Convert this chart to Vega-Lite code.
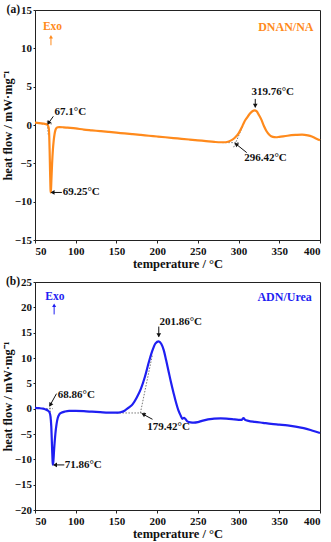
{
  "$schema": "https://vega.github.io/schema/vega-lite/v6.json",
  "padding": {"left": 0, "top": 3, "right": 8, "bottom": 2},
  "bounds": "flush",
  "spacing": 42,
  "config": {
    "font": "Liberation Serif",
    "view": {"stroke": "#222", "strokeWidth": 1},
    "axis": {
      "labelFont": "Liberation Serif", "labelFontWeight": "bold", "labelFontSize": 11, "labelColor": "#111",
      "titleFont": "Liberation Serif", "titleFontWeight": "bold", "titleFontSize": 12.5, "titleColor": "#111",
      "grid": false, "domainColor": "#222", "tickColor": "#222", "tickSize": 3, "labelPadding": 2
    },
    "axisY": {"tickSize": 2, "labelPadding": 1.5, "titlePadding": 0, "labelSeparation": 0},
    "text": {"font": "Liberation Serif", "fontWeight": "bold", "fontSize": 11}
  },
  "datasets": {
    "curveA": [
      {"t":50,"h":0.30},{"t":55,"h":0.25},{"t":60,"h":0.18},{"t":63,"h":0.12},{"t":65,"h":0.05},{"t":66,"h":-0.1},{"t":67,"h":-0.5},{"t":67.5,"h":-1.5},{"t":68,"h":-3.5},{"t":68.5,"h":-6.0},{"t":69,"h":-8.2},{"t":69.25,"h":-8.8},{"t":69.6,"h":-8.5},{"t":70.2,"h":-7.0},{"t":71,"h":-5.0},{"t":72,"h":-3.2},{"t":73,"h":-2.0},{"t":74,"h":-1.2},{"t":75,"h":-0.7},{"t":76,"h":-0.45},{"t":78,"h":-0.3},{"t":80,"h":-0.27},{"t":85,"h":-0.3},{"t":90,"h":-0.35},{"t":100,"h":-0.45},{"t":110,"h":-0.6},{"t":120,"h":-0.7},{"t":130,"h":-0.8},{"t":140,"h":-0.9},{"t":150,"h":-1.0},{"t":160,"h":-1.1},{"t":170,"h":-1.2},{"t":180,"h":-1.3},{"t":190,"h":-1.4},{"t":200,"h":-1.5},{"t":210,"h":-1.6},{"t":220,"h":-1.7},{"t":230,"h":-1.8},{"t":240,"h":-1.9},{"t":250,"h":-2.0},{"t":260,"h":-2.1},{"t":270,"h":-2.2},{"t":278,"h":-2.25},{"t":284,"h":-2.25},{"t":288,"h":-2.15},{"t":292,"h":-1.95},{"t":296,"h":-1.6},{"t":300,"h":-1.1},{"t":304,"h":-0.3},{"t":307,"h":0.4},{"t":310,"h":0.9},{"t":314,"h":1.5},{"t":317,"h":1.8},{"t":319.76,"h":1.9},{"t":322,"h":1.8},{"t":325,"h":1.3},{"t":328,"h":0.7},{"t":331,"h":-0.1},{"t":334,"h":-0.75},{"t":338,"h":-1.3},{"t":342,"h":-1.55},{"t":346,"h":-1.6},{"t":350,"h":-1.55},{"t":360,"h":-1.4},{"t":370,"h":-1.3},{"t":378,"h":-1.25},{"t":385,"h":-1.35},{"t":390,"h":-1.5},{"t":395,"h":-1.75},{"t":400,"h":-2.0}
    ],
    "curveB": [
      {"t":50,"h":0.15},{"t":55,"h":0.1},{"t":60,"h":0.0},{"t":63,"h":-0.15},{"t":66,"h":-0.4},{"t":68,"h":-0.8},{"t":69,"h":-1.5},{"t":70,"h":-3.5},{"t":70.8,"h":-7},{"t":71.5,"h":-10},{"t":71.86,"h":-11.05},{"t":72.5,"h":-10.5},{"t":73.5,"h":-8},{"t":75,"h":-5},{"t":76.5,"h":-3},{"t":78,"h":-1.8},{"t":80,"h":-1.1},{"t":83,"h":-0.75},{"t":87,"h":-0.55},{"t":92,"h":-0.45},{"t":100,"h":-0.45},{"t":110,"h":-0.5},{"t":120,"h":-0.6},{"t":130,"h":-0.7},{"t":140,"h":-0.8},{"t":150,"h":-0.8},{"t":155,"h":-0.7},{"t":160,"h":-0.4},{"t":165,"h":0.2},{"t":170,"h":0.9},{"t":175,"h":2.2},{"t":180,"h":3.9},{"t":185,"h":6.3},{"t":190,"h":9.3},{"t":194,"h":11.4},{"t":198,"h":12.9},{"t":201.86,"h":13.3},{"t":205,"h":12.8},{"t":208,"h":11.6},{"t":211,"h":9.6},{"t":214,"h":7.4},{"t":217,"h":5.2},{"t":220,"h":3.2},{"t":223,"h":1.3},{"t":226,"h":-0.3},{"t":229,"h":-1.4},{"t":231,"h":-2.0},{"t":233,"h":-1.8},{"t":234.5,"h":-2.0},{"t":237,"h":-2.5},{"t":241,"h":-2.7},{"t":245,"h":-2.75},{"t":250,"h":-2.65},{"t":255,"h":-2.4},{"t":260,"h":-2.2},{"t":265,"h":-2.05},{"t":270,"h":-1.95},{"t":278,"h":-1.9},{"t":285,"h":-1.95},{"t":292,"h":-2.05},{"t":300,"h":-2.2},{"t":304,"h":-2.2},{"t":306,"h":-1.85},{"t":308,"h":-2.2},{"t":312,"h":-2.4},{"t":320,"h":-2.6},{"t":330,"h":-2.8},{"t":340,"h":-3.0},{"t":350,"h":-3.15},{"t":360,"h":-3.3},{"t":370,"h":-3.55},{"t":380,"h":-3.85},{"t":390,"h":-4.3},{"t":400,"h":-4.8}
    ],
    "tanA": [
      {"x":58,"y":0.15,"x2":71,"y2":0.15},
      {"x":65.1,"y":0.5,"x2":66.4,"y2":-1.4},
      {"x":280,"y":-2.3,"x2":300,"y2":-2.3},
      {"x":294,"y":-2.9,"x2":305,"y2":-0.2}
    ],
    "tanB": [
      {"x":60,"y":0.0,"x2":72,"y2":0.0},
      {"x":68,"y":0.8,"x2":69.3,"y2":-1.8},
      {"x":150,"y":-0.85,"x2":186,"y2":-0.85},
      {"x":179.42,"y":-0.85,"x2":194,"y2":10.5}
    ]
  },
  "vconcat": [
    {
      "width": 285, "height": 230,
      "layer": [
        {
          "data": {"name": "tanA"},
          "mark": {"type": "rule", "color": "#777", "strokeDash": [1.5, 1.5], "strokeWidth": 1},
          "encoding": {
            "x": {"field": "x", "type": "quantitative", "scale": {"domain": [50, 400], "nice": false},
              "axis": {"title": "temperature / °C", "values": [50,75,100,125,150,175,200,225,250,275,300,325,350,375,400], "labelExpr": "datum.value % 50 == 0 ? datum.label : ''", "titlePadding": 1, "labelOverlap": false}},
            "y": {"field": "y", "type": "quantitative", "scale": {"domain": [-15, 15], "nice": false},
              "axis": {"title": "heat flow / mW·mg⁻¹", "tickCount": 6, "labelOverlap": false, "labelFlush": false}},
            "x2": {"field": "x2"}, "y2": {"field": "y2"}
          }
        },
        {
          "data": {"name": "curveA"},
          "mark": {"type": "line", "color": "#FF8A1C", "strokeWidth": 2.2, "interpolate": "monotone"},
          "encoding": {
            "x": {"field": "t", "type": "quantitative"},
            "y": {"field": "h", "type": "quantitative"}
          }
        },
        {
          "data": {"values": [
            {"x":72.5,"y":1.13,"x2":66.6,"y2":0.25},
            {"x":83,"y":-8.8,"x2":71,"y2":-8.8},
            {"x":320.5,"y":3.4,"x2":320.5,"y2":2.3},
            {"x":310,"y":-3.6,"x2":296.5,"y2":-2.45}
          ]},
          "mark": {"type": "rule", "color": "#111", "strokeWidth": 1},
          "encoding": {
            "x": {"field": "x", "type": "quantitative"}, "y": {"field": "y", "type": "quantitative"},
            "x2": {"field": "x2"}, "y2": {"field": "y2"}
          }
        },
        {
          "data": {"values": [{"x":66.6,"y":0.25}]},
          "mark": {"type": "point", "shape": "triangle-left", "filled": true, "color": "#111", "size": 22, "angle": 304, "opacity": 1},
          "encoding": {"x": {"field": "x", "type": "quantitative"}, "y": {"field": "y", "type": "quantitative"}}
        },
        {
          "data": {"values": [{"x":71.5,"y":-8.8}]},
          "mark": {"type": "point", "shape": "triangle-left", "filled": true, "color": "#111", "size": 22, "opacity": 1},
          "encoding": {"x": {"field": "x", "type": "quantitative"}, "y": {"field": "y", "type": "quantitative"}}
        },
        {
          "data": {"values": [{"x":320.5,"y":2.5}]},
          "mark": {"type": "point", "shape": "triangle-down", "filled": true, "color": "#111", "size": 22, "opacity": 1},
          "encoding": {"x": {"field": "x", "type": "quantitative"}, "y": {"field": "y", "type": "quantitative"}}
        },
        {
          "data": {"values": [{"x":297,"y":-2.5}]},
          "mark": {"type": "point", "shape": "triangle-left", "filled": true, "color": "#111", "size": 22, "angle": 36, "opacity": 1},
          "encoding": {"x": {"field": "x", "type": "quantitative"}, "y": {"field": "y", "type": "quantitative"}}
        },
        {
          "data": {"values": [
            {"x":74,"y":1.7,"label":"67.1°C"},
            {"x":84,"y":-8.8,"label":"69.25°C"}
          ]},
          "mark": {"type": "text", "align": "left", "baseline": "middle", "color": "#111"},
          "encoding": {"x": {"field": "x", "type": "quantitative"}, "y": {"field": "y", "type": "quantitative"}, "text": {"field": "label"}}
        },
        {
          "data": {"values": [
            {"x":342,"y":4.3,"label":"319.76°C"},
            {"x":333,"y":-4.3,"label":"296.42°C"}
          ]},
          "mark": {"type": "text", "align": "center", "baseline": "middle", "color": "#111"},
          "encoding": {"x": {"field": "x", "type": "quantitative"}, "y": {"field": "y", "type": "quantitative"}, "text": {"field": "label"}}
        },
        {
          "data": {"values": [{"x":71.5,"y":12.8,"label":"Exo"}]},
          "mark": {"type": "text", "align": "center", "baseline": "middle", "color": "#FF8A1C", "fontSize": 11.5},
          "encoding": {"x": {"field": "x", "type": "quantitative"}, "y": {"field": "y", "type": "quantitative"}, "text": {"field": "label"}}
        },
        {
          "data": {"values": [{"x":69.6,"y":10.4,"x2":69.6,"y2":11.5}]},
          "mark": {"type": "rule", "color": "#FF8A1C", "strokeWidth": 1},
          "encoding": {"x": {"field": "x", "type": "quantitative"}, "y": {"field": "y", "type": "quantitative"}, "y2": {"field": "y2"}}
        },
        {
          "data": {"values": [{"x":69.6,"y":11.5}]},
          "mark": {"type": "point", "shape": "triangle-up", "filled": true, "color": "#FF8A1C", "size": 16, "opacity": 1},
          "encoding": {"x": {"field": "x", "type": "quantitative"}, "y": {"field": "y", "type": "quantitative"}}
        },
        {
          "data": {"values": [{"x":392,"y":12.8,"label":"DNAN/NA"}]},
          "mark": {"type": "text", "align": "right", "baseline": "middle", "color": "#FF8A1C", "fontSize": 12},
          "encoding": {"x": {"field": "x", "type": "quantitative"}, "y": {"field": "y", "type": "quantitative"}, "text": {"field": "label"}}
        },
        {
          "data": {"values": [{"x":50,"y":15,"label":"(a)"}]},
          "mark": {"type": "text", "align": "right", "baseline": "middle", "color": "#111", "dx": -15, "fontSize": 11.5},
          "encoding": {"x": {"field": "x", "type": "quantitative"}, "y": {"field": "y", "type": "quantitative"}, "text": {"field": "label"}}
        }
      ]
    },
    {
      "width": 285, "height": 228,
      "layer": [
        {
          "data": {"name": "tanB"},
          "mark": {"type": "rule", "color": "#777", "strokeDash": [1.5, 1.5], "strokeWidth": 1},
          "encoding": {
            "x": {"field": "x", "type": "quantitative", "scale": {"domain": [50, 400], "nice": false},
              "axis": {"title": "temperature / °C", "values": [50,75,100,125,150,175,200,225,250,275,300,325,350,375,400], "labelExpr": "datum.value % 50 == 0 ? datum.label : ''", "titlePadding": 1, "labelOverlap": false}},
            "y": {"field": "y", "type": "quantitative", "scale": {"domain": [-20, 25], "nice": false},
              "axis": {"title": "heat flow / mW·mg⁻¹", "tickCount": 9, "labelOverlap": false, "labelFlush": false}},
            "x2": {"field": "x2"}, "y2": {"field": "y2"}
          }
        },
        {
          "data": {"name": "curveB"},
          "mark": {"type": "line", "color": "#1F1FF2", "strokeWidth": 2.2, "interpolate": "monotone"},
          "encoding": {
            "x": {"field": "t", "type": "quantitative"},
            "y": {"field": "h", "type": "quantitative"}
          }
        },
        {
          "data": {"values": [
            {"x":76.4,"y":2.96,"x2":68.6,"y2":0.7},
            {"x":86,"y":-11.1,"x2":74,"y2":-11.1},
            {"x":202,"y":16.2,"x2":202,"y2":14.2},
            {"x":194.3,"y":-2.1,"x2":182.2,"y2":-1.05}
          ]},
          "mark": {"type": "rule", "color": "#111", "strokeWidth": 1},
          "encoding": {
            "x": {"field": "x", "type": "quantitative"}, "y": {"field": "y", "type": "quantitative"},
            "x2": {"field": "x2"}, "y2": {"field": "y2"}
          }
        },
        {
          "data": {"values": [{"x":68.8,"y":0.75}]},
          "mark": {"type": "point", "shape": "triangle-left", "filled": true, "color": "#111", "size": 22, "angle": 300, "opacity": 1},
          "encoding": {"x": {"field": "x", "type": "quantitative"}, "y": {"field": "y", "type": "quantitative"}}
        },
        {
          "data": {"values": [{"x":74.5,"y":-11.1}]},
          "mark": {"type": "point", "shape": "triangle-left", "filled": true, "color": "#111", "size": 22, "opacity": 1},
          "encoding": {"x": {"field": "x", "type": "quantitative"}, "y": {"field": "y", "type": "quantitative"}}
        },
        {
          "data": {"values": [{"x":202,"y":14.5}]},
          "mark": {"type": "point", "shape": "triangle-down", "filled": true, "color": "#111", "size": 22, "opacity": 1},
          "encoding": {"x": {"field": "x", "type": "quantitative"}, "y": {"field": "y", "type": "quantitative"}}
        },
        {
          "data": {"values": [{"x":183,"y":-1.1}]},
          "mark": {"type": "point", "shape": "triangle-left", "filled": true, "color": "#111", "size": 22, "angle": 27, "opacity": 1},
          "encoding": {"x": {"field": "x", "type": "quantitative"}, "y": {"field": "y", "type": "quantitative"}}
        },
        {
          "data": {"values": [
            {"x":78,"y":2.7,"label":"68.86°C"},
            {"x":86.5,"y":-11.2,"label":"71.86°C"}
          ]},
          "mark": {"type": "text", "align": "left", "baseline": "middle", "color": "#111"},
          "encoding": {"x": {"field": "x", "type": "quantitative"}, "y": {"field": "y", "type": "quantitative"}, "text": {"field": "label"}}
        },
        {
          "data": {"values": [
            {"x":229,"y":17.2,"label":"201.86°C"},
            {"x":214,"y":-3.7,"label":"179.42°C"}
          ]},
          "mark": {"type": "text", "align": "center", "baseline": "middle", "color": "#111"},
          "encoding": {"x": {"field": "x", "type": "quantitative"}, "y": {"field": "y", "type": "quantitative"}, "text": {"field": "label"}}
        },
        {
          "data": {"values": [{"x":74.4,"y":22,"label":"Exo"}]},
          "mark": {"type": "text", "align": "center", "baseline": "middle", "color": "#1F1FF2", "fontSize": 11.5},
          "encoding": {"x": {"field": "x", "type": "quantitative"}, "y": {"field": "y", "type": "quantitative"}, "text": {"field": "label"}}
        },
        {
          "data": {"values": [{"x":73.5,"y":18.6,"x2":73.5,"y2":20.4}]},
          "mark": {"type": "rule", "color": "#1F1FF2", "strokeWidth": 1},
          "encoding": {"x": {"field": "x", "type": "quantitative"}, "y": {"field": "y", "type": "quantitative"}, "y2": {"field": "y2"}}
        },
        {
          "data": {"values": [{"x":73.5,"y":20.4}]},
          "mark": {"type": "point", "shape": "triangle-up", "filled": true, "color": "#1F1FF2", "size": 16, "opacity": 1},
          "encoding": {"x": {"field": "x", "type": "quantitative"}, "y": {"field": "y", "type": "quantitative"}}
        },
        {
          "data": {"values": [{"x":390,"y":22,"label":"ADN/Urea"}]},
          "mark": {"type": "text", "align": "right", "baseline": "middle", "color": "#1F1FF2", "fontSize": 12},
          "encoding": {"x": {"field": "x", "type": "quantitative"}, "y": {"field": "y", "type": "quantitative"}, "text": {"field": "label"}}
        },
        {
          "data": {"values": [{"x":50,"y":25,"label":"(b)"}]},
          "mark": {"type": "text", "align": "right", "baseline": "middle", "color": "#111", "dx": -15, "fontSize": 11.5},
          "encoding": {"x": {"field": "x", "type": "quantitative"}, "y": {"field": "y", "type": "quantitative"}, "text": {"field": "label"}}
        }
      ]
    }
  ]
}
